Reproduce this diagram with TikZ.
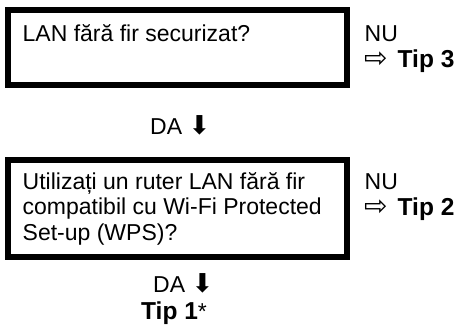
\documentclass[tikz,border=0pt]{standalone}
\usepackage{fontspec}
\setmainfont{Liberation Sans}
\newfontfamily\symfont{DejaVu Sans}
\usetikzlibrary{positioning}
\newcommand{\downarr}{{\symfont\fontsize{26}{26}\selectfont\char"2B07}}
\newcommand{\rightarr}{{\symfont\fontsize{28}{28}\selectfont\char"21E8}}
\newcommand{\tip}[1]{{\bfseries\fontsize{24.5}{24.5}\selectfont#1}}

\begin{document}
\begin{tikzpicture}[x=1pt, y=-1pt,
    qbox/.style={draw, line width=6pt, minimum width=339pt, inner sep=0pt},
    qtext/.style={anchor=base west, inner sep=0pt, align=left,
      font=\fontsize{23}{25.85}\selectfont},
    answer/.style={anchor=base west, inner sep=0pt,
      font=\fontsize{23}{25.85}\selectfont}]
    \useasboundingbox (0,0) rectangle (464,325);

    % First question
    \node[qbox, minimum height=75pt] (q1) at (177.5,47.5) {};
    \node[qtext] (q1text) at (22.5,41) {LAN fără fir securizat?};
    \node[answer] (no1) at (364.5,41) {NU};
    \node[answer] (tip3) at (364,67.5) {\rightarr\hspace{10pt}\tip{Tip 3}};

    % Yes to the first question
    \node[answer] (yes1) at (150,134) {DA \downarr};

    % Second question
    \node[qbox, minimum height=97pt] (q2) at (177.5,208.5) {};
    \node[qtext] (q2text) at (22.5,240.7)
      {Utilizați un ruter LAN fără fir\\compatibil cu Wi-Fi Protected\\Set-up (WPS)?};
    \node[answer] (no2) at (364.5,189) {NU};
    \node[answer] (tip2) at (364,215.5) {\rightarr\hspace{10pt}\tip{Tip 2}};

    % Yes to the second question
    \node[answer] (yes2) at (153,292) {DA \downarr};
    \node[answer] (tip1) at (141,319) {\tip{Tip 1}*};
\end{tikzpicture}
\end{document}
